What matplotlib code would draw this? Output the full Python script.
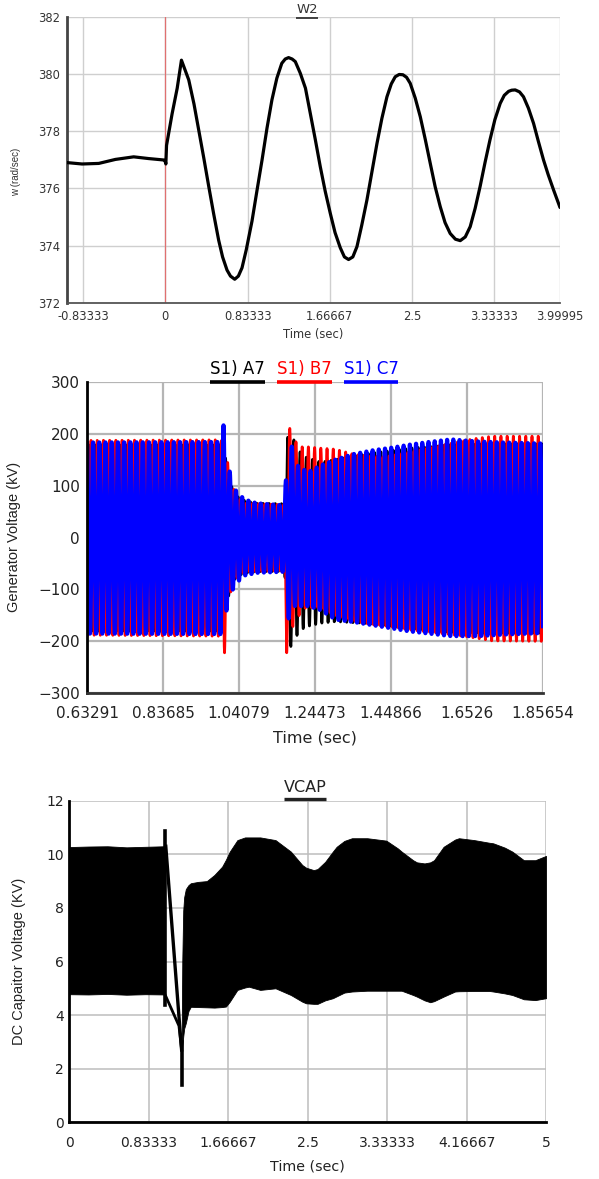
import numpy as np
import matplotlib
matplotlib.use("Agg")
import matplotlib.pyplot as plt
from matplotlib.lines import Line2D

# ------------------------------------------------------------------
# DATA
# ------------------------------------------------------------------
# Panel 1 : W2 rotor speed
w2_time = [-1.0, -0.844, -0.675, -0.506, -0.321, -0.17, -0.017, 0.0, 0.005,
           0.012, 0.068, 0.12, 0.163, 0.237, 0.29, 0.338, 0.39, 0.44, 0.49, 0.54,
           0.58, 0.625, 0.66, 0.703, 0.74, 0.777, 0.82, 0.878, 0.93, 0.98, 1.03,
           1.08, 1.13, 1.18, 1.215, 1.249, 1.285, 1.317, 1.368, 1.42, 1.469,
           1.52, 1.57, 1.62, 1.672, 1.72, 1.773, 1.815, 1.857, 1.9, 1.942, 1.99,
           2.043, 2.095, 2.145, 2.195, 2.246, 2.29, 2.33, 2.37, 2.408, 2.445,
           2.482, 2.533, 2.584, 2.635, 2.685, 2.735, 2.786, 2.835, 2.887, 2.94,
           2.989, 3.04, 3.09, 3.14, 3.19, 3.24, 3.29, 3.34, 3.394, 3.435, 3.479,
           3.51, 3.546, 3.59, 3.63, 3.68, 3.732, 3.78, 3.833, 3.88, 3.935, 4.0]
w2_speed = [376.9, 376.85, 376.87, 377.01, 377.1, 377.04, 376.99, 376.93, 376.85,
            377.5, 378.6, 379.5, 380.48, 379.79, 378.95, 378.04, 377.05, 376.06, 375.1, 374.19,
            373.6, 373.14, 372.93, 372.82, 372.93, 373.22, 373.85, 374.85, 375.95, 376.99, 378.1,
            379.09, 379.85, 380.37, 380.52, 380.57, 380.52, 380.43, 380.02, 379.5, 378.62,
            377.7, 376.76, 375.9, 375.12, 374.45, 373.92, 373.6, 373.51, 373.6, 373.96, 374.7,
            375.59, 376.6, 377.57, 378.45, 379.2, 379.65, 379.9, 379.98, 379.97, 379.88,
            379.67, 379.15, 378.5, 377.7, 376.87, 376.05, 375.36, 374.8, 374.42, 374.22,
            374.17, 374.3, 374.66, 375.3, 376.06, 376.9, 377.69, 378.4, 378.97, 379.25, 379.39,
            379.43, 379.44, 379.37, 379.2, 378.8, 378.27, 377.65, 376.99, 376.48, 375.94, 375.33]
w2_xticks = [-0.83333, 0, 0.83333, 1.66667, 2.5, 3.33333, 3.99995]
w2_xticklabels = ["-0.83333", "0", "0.83333", "1.66667", "2.5", "3.33333", "3.99995"]
w2_yticks = [372, 374, 376, 378, 380, 382]

# Panel 2 : generator phase voltages (envelopes, kV)
gen_xticks = [0.63291, 0.83685, 1.04079, 1.24473, 1.44866, 1.6526, 1.85654]
gen_xticklabels = ["0.63291", "0.83685", "1.04079", "1.24473", "1.44866", "1.6526", "1.85654"]
gen_yticks = [-300, -200, -100, 0, 100, 200, 300]
gen_freq_hz = 60.0

a7_env_t = [0.63291, 0.995, 1.003, 1.01, 1.02, 1.03, 1.044, 1.062, 1.088, 1.163,
            1.1715, 1.18, 1.19, 1.2, 1.22, 1.26, 1.3, 1.4, 1.5, 1.6, 1.7, 1.85654]
a7_top = [178, 178, 160, 130, 100, 84, 74, 70, 66, 65,
          193, 200, 185, 168, 155, 145, 150, 163, 172, 178, 180, 180]
a7_bot = [-180, -180, -160, -120, -95, -80, -72, -68, -66, -65,
          -200, -210, -200, -182, -172, -165, -162, -166, -175, -182, -184, -184]

b7_env_t = [0.63291, 0.99, 0.995, 1.002, 1.008, 1.0125, 1.02, 1.03, 1.045, 1.06, 1.163,
            1.1687, 1.177, 1.19, 1.2, 1.22, 1.26, 1.3, 1.35, 1.4, 1.43, 1.5, 1.6,
            1.67, 1.72, 1.85654]
b7_top = [187, 188, 186, 180, 150, 139, 110, 85, 72, 66, 63,
          200, 210, 190, 174, 175, 172, 170, 160, 157, 155, 165, 180,
          190, 195, 195]
b7_bot = [-188, -190, -195, -222, -150, -125, -100, -82, -70, -66, -64,
          -222, -195, -158, -152, -135, -135, -150, -161, -168, -170, -178, -186,
          -193, -199, -200]

c7_env_t = [0.63291, 0.99, 0.9992, 1.006, 1.0097, 1.017, 1.026, 1.039, 1.057, 1.088,
            1.163, 1.1715, 1.178, 1.19, 1.2, 1.227, 1.26, 1.3, 1.35, 1.4, 1.45, 1.5,
            1.55, 1.61, 1.68, 1.75, 1.85654]
c7_top = [183, 184, 216, 150, 138, 125, 97, 84, 73, 66,
          62, 184, 184, 160, 136, 126, 139, 150, 161, 168, 173, 179,
          184, 189, 185, 183, 181]
c7_bot = [-185, -186, -186, -150, -125, -113, -97, -84, -73, -68,
          -66, -160, -150, -132, -132, -132, -140, -158, -163, -169, -175, -181,
          -185, -190, -190, -187, -184]

# Panel 3 : DC capacitor voltage band (kV)
vcap_xticks = [0, 0.83333, 1.66667, 2.5, 3.33333, 4.16667, 5]
vcap_xticklabels = ["0", "0.83333", "1.66667", "2.5", "3.33333", "4.16667", "5"]
vcap_yticks = [0, 2, 4, 6, 8, 10, 12]

vcap_pre_t = [0.0, 0.2, 0.4, 0.6, 0.8, 0.995]
vcap_pre_top = [10.27, 10.29, 10.3, 10.26, 10.28, 10.3]
vcap_pre_bot = [4.78, 4.77, 4.79, 4.76, 4.78, 4.77]

vcap_post_t = [1.178, 1.185, 1.195, 1.205, 1.222, 1.25, 1.274, 1.35, 1.442, 1.522,
               1.603, 1.643, 1.683, 1.763, 1.843, 1.883, 2.003, 2.163, 2.324, 2.444,
               2.484, 2.564, 2.604, 2.684, 2.764, 2.804, 2.885, 2.965, 3.125, 3.325,
               3.446, 3.486, 3.606, 3.646, 3.726, 3.786, 3.826, 3.926, 4.046, 4.087,
               4.247, 4.407, 4.447, 4.567, 4.647, 4.768, 4.888, 5.0]
vcap_post_top = [2.8, 6.0, 7.9, 8.4, 8.7, 8.85, 8.92, 8.97, 9.0, 9.23,
                 9.54, 9.8, 10.1, 10.53, 10.63, 10.63, 10.63, 10.53, 10.1, 9.6,
                 9.5, 9.41, 9.45, 9.72, 10.1, 10.28, 10.5, 10.6, 10.6, 10.51,
                 10.22, 10.1, 9.78, 9.7, 9.66, 9.7, 9.78, 10.28, 10.55, 10.6,
                 10.53, 10.43, 10.41, 10.25, 10.1, 9.78, 9.78, 9.94]
vcap_post_bot = [2.6, 2.8, 3.2, 3.5, 3.7, 4.15, 4.31, 4.3, 4.29, 4.28,
                 4.3, 4.32, 4.5, 4.94, 5.03, 5.06, 4.94, 5.0, 4.75, 4.5,
                 4.44, 4.42, 4.42, 4.55, 4.63, 4.7, 4.84, 4.88, 4.91, 4.91,
                 4.91, 4.91, 4.75, 4.69, 4.55, 4.48, 4.52, 4.69, 4.88, 4.89,
                 4.9, 4.9, 4.88, 4.81, 4.75, 4.59, 4.56, 4.63]
vcap_arm1_t = [1.012, 1.16, 1.178]
vcap_arm1_v = [10.3, 3.5, 2.7]
vcap_arm2_t = [1.0, 1.15, 1.178]
vcap_arm2_v = [4.8, 3.6, 2.7]
vcap_spike1_t = [1.005, 1.005]
vcap_spike1_v = [4.38, 10.88]
vcap_spike2_t = [1.18, 1.18]
vcap_spike2_v = [1.39, 3.0]

# ------------------------------------------------------------------
# FIGURE
# ------------------------------------------------------------------
W, H = 599, 1179
fig = plt.figure(figsize=(W / 100, H / 100), dpi=100)
plt.rcParams['font.family'] = ['DejaVu Sans']


def fx(px):
    return px / W


def fy(py):
    return 1 - py / H


def make_ax(l, t, r, b):
    return fig.add_axes([fx(l), fy(b), fx(r) - fx(l), fy(t) - fy(b)])


def underline(txt, color, lw, gap):
    fig.canvas.draw()
    bb = txt.get_window_extent(fig.canvas.get_renderer())
    y = bb.y0 - gap
    fig.add_artist(Line2D([bb.x0 / W, bb.x1 / W], [y / H, y / H],
                          transform=fig.transFigure, color=color, lw=lw,
                          solid_capstyle='butt'))
    return bb


# ---------------- Panel 1 ----------------
ax1 = make_ax(66.7, 16.7, 560, 302.7)
ax1.set_xlim(-1.0, 4.0)
ax1.set_ylim(372, 382)
for xv in w2_xticks:
    ax1.axvline(xv, color='#cfcfcf', lw=1.0, zorder=0)
for yv in w2_yticks:
    ax1.axhline(yv, color='#cfcfcf', lw=1.0, zorder=0)
ax1.axvline(0, color='#e07070', lw=0.9, zorder=1)
ax1.plot(w2_time, w2_speed, color='black', lw=2.3, solid_joinstyle='round',
         solid_capstyle='round', zorder=3)
ax1.set_xticks(w2_xticks)
ax1.set_xticklabels(w2_xticklabels)
ax1.set_yticks(w2_yticks)
ax1.tick_params(length=0, labelsize=8.3, labelcolor='#333333', pad=5)
for s in ['top', 'right']:
    ax1.spines[s].set_visible(False)
ax1.spines['left'].set_color('#444444')
ax1.spines['left'].set_linewidth(2.0)
ax1.spines['bottom'].set_color('#555555')
ax1.spines['bottom'].set_linewidth(1.3)
ax1.set_xlabel('Time (sec)', fontsize=8.3, color='#333333', labelpad=4)
ax1.set_ylabel('w (rad/sec)', fontsize=7, color='#333333',
               fontfamily='Liberation Sans')
ax1.yaxis.set_label_coords(fx(21), fy(172), transform=fig.transFigure)
t1 = fig.text(fx(307), fy(9.5), 'W2', ha='center', va='center', fontsize=9.5,
              color='#333333')

# ---------------- Panel 2 ----------------
ax2 = make_ax(87, 381.7, 543, 693.3)
ax2.set_xlim(gen_xticks[0], gen_xticks[-1])
ax2.set_ylim(-300, 300)
for xv in gen_xticks:
    ax2.axvline(xv, color='#b5b5b5', lw=1.6, zorder=0)
for yv in gen_yticks:
    ax2.axhline(yv, color='#b5b5b5', lw=1.6, zorder=0)

tt = np.linspace(gen_xticks[0], gen_xticks[-1], 40000)
phase_b = np.pi / 2 - 2 * np.pi * 0.62
phases = {'A': phase_b + 2 * np.pi / 3, 'B': phase_b, 'C': phase_b - 2 * np.pi / 3}
for env_t, top, bot, ph, col, lw in [(a7_env_t, a7_top, a7_bot, phases['A'], 'black', 2.0),
                                     (b7_env_t, b7_top, b7_bot, phases['B'], '#ff0000', 2.0),
                                     (c7_env_t, c7_top, c7_bot, phases['C'], '#0000ff', 3.0)]:
    tp = np.interp(tt, env_t, top)
    bt = np.interp(tt, env_t, bot)
    mid = (tp + bt) / 2
    half = (tp - bt) / 2
    v = mid + half * np.sin(2 * np.pi * gen_freq_hz * tt + ph)
    ax2.plot(tt, v, color=col, lw=lw, zorder=2)

ax2.set_xticks(gen_xticks)
ax2.set_xticklabels(gen_xticklabels)
ax2.set_yticks(gen_yticks)
ax2.tick_params(length=0, labelsize=11, labelcolor='#222222', pad=5)
ax2.tick_params(axis='x', pad=9)
for s in ['top', 'right']:
    ax2.spines[s].set_visible(False)
ax2.spines['left'].set_color('black')
ax2.spines['left'].set_linewidth(2.0)
ax2.spines['bottom'].set_color('#333333')
ax2.spines['bottom'].set_linewidth(2.0)
ax2.set_xlabel('Time (sec)', fontsize=11.5, color='#222222', labelpad=7)
ax2.set_ylabel('Generator Voltage (kV)', fontsize=10.5, color='#222222',
               fontfamily='Liberation Sans')
ax2.yaxis.set_label_coords(fx(21), fy(537), transform=fig.transFigure)

# legend-like header
x_cursor = 210
for label, col in [('S1) A7', 'black'), ('S1) B7', '#ff0000'), ('S1) C7', '#0000ff')]:
    tx = fig.text(fx(x_cursor), fy(369.5), label, ha='left', va='center',
                  fontsize=12, color=col)
    bb = underline(tx, col, 2.6, 3)
    x_cursor = bb.x1 + 12

# ---------------- Panel 3 ----------------
ax3 = make_ax(69.3, 800.7, 546, 1122.3)
ax3.set_xlim(0, 5)
ax3.set_ylim(0, 12)
for xv in vcap_xticks:
    ax3.axvline(xv, color='#bdbdbd', lw=1.1, zorder=0)
for yv in vcap_yticks:
    ax3.axhline(yv, color='#bdbdbd', lw=1.1, zorder=0)
ax3.fill_between(vcap_pre_t, vcap_pre_bot, vcap_pre_top, color='black', lw=0.6,
                 edgecolor='black', zorder=2)
ax3.fill_between(vcap_post_t, vcap_post_bot, vcap_post_top, color='black', lw=0.6,
                 edgecolor='black', zorder=2)
ax3.plot(vcap_arm1_t, vcap_arm1_v, color='black', lw=2.4, zorder=3)
ax3.plot(vcap_arm2_t, vcap_arm2_v, color='black', lw=2.0, zorder=3)
ax3.plot(vcap_spike1_t, vcap_spike1_v, color='black', lw=2.6, zorder=3)
ax3.plot(vcap_spike2_t, vcap_spike2_v, color='black', lw=2.6, zorder=3)
ax3.set_xticks(vcap_xticks)
ax3.set_xticklabels(vcap_xticklabels)
ax3.set_yticks(vcap_yticks)
ax3.tick_params(length=0, labelsize=10, labelcolor='#222222', pad=4)
ax3.tick_params(axis='x', pad=10)
for s in ['top', 'right']:
    ax3.spines[s].set_visible(False)
ax3.spines['left'].set_color('black')
ax3.spines['left'].set_linewidth(2.0)
ax3.spines['bottom'].set_color('black')
ax3.spines['bottom'].set_linewidth(2.0)
ax3.set_xlabel('Time (sec)', fontsize=10.3, color='#222222', labelpad=7)
ax3.set_ylabel('DC Capaitor Voltage (KV)', fontsize=10.5, color='#222222',
               fontfamily='Liberation Sans')
ax3.yaxis.set_label_coords(fx(26), fy(961), transform=fig.transFigure)
t3 = fig.text(fx(305), fy(788), 'VCAP', ha='center', va='center', fontsize=11.5,
              color='#222222')

underline(t1, '#333333', 1.3, 2)
underline(t3, '#222222', 2.4, 3)

fig.savefig('out.png', dpi=100)
